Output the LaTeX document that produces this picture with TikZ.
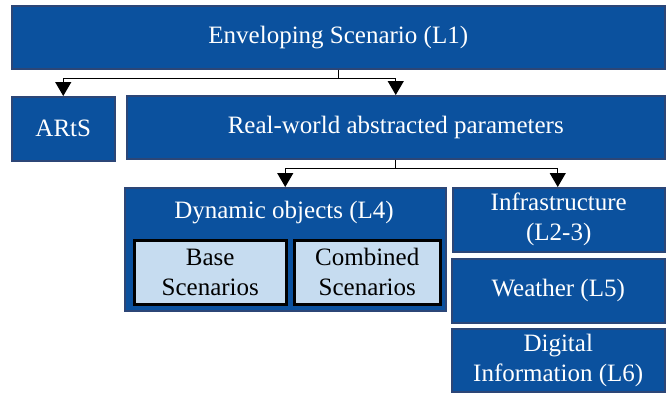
\documentclass[tikz,border=0pt]{standalone}
\usepackage{fontspec}
\setmainfont{Liberation Serif}
\usetikzlibrary{positioning}
\usetikzlibrary{arrows.meta}
\definecolor{boxblue}{HTML}{0B519E}
\definecolor{boxedge}{HTML}{2C4677}
\definecolor{boxlight}{HTML}{C6DCF0}
\tikzset{
    mybox/.style = {rectangle, draw=boxedge, line width=1.5pt, fill=boxblue, text=white, align=center, anchor=north west, inner sep=0pt, font=\fontsize{25}{30}\selectfont},
    myboxl/.style = {rectangle, draw=black, line width=2.5pt, fill=boxlight, text=black, align=center, anchor=north west, inner sep=0pt, font=\fontsize{25}{30}\selectfont},
    edgen/.style = {-{Triangle[width=16pt,length=14pt]}, line width=1.2pt, black},
    edgel/.style = {-, line width=1.2pt, black}
}
\begin{document}
\begin{tikzpicture}[x=1pt, y=-1pt]
  \useasboundingbox (0,0) rectangle (669,397);
  % level 1
  \node[mybox, minimum width=653pt, minimum height=63pt] (env) at (11,5) {Enveloping Scenario (L1)};
  \node[mybox, minimum width=103pt, minimum height=64pt] (arts) at (11,96) {ARtS};
  \node[mybox, minimum width=538pt, minimum height=63pt] (real) at (126,95) {Real-world abstracted parameters};
  % dynamic objects
  \node[mybox, minimum width=321pt, minimum height=123pt] (dyn) at (124,187) {};
  \node[anchor=center, text=white, font=\fontsize{25}{30}\selectfont] (dyntxt) at (284,213) {Dynamic objects (L4)};
  \node[myboxl, minimum width=152pt, minimum height=64pt] (base) at (133,239) {Base\\Scenarios};
  \node[myboxl, minimum width=146pt, minimum height=64pt] (comb) at (293,239) {Combined\\Scenarios};
  % right column
  \node[mybox, minimum width=212pt, minimum height=64pt] (infra) at (452,187) {Infrastructure\\(L2-3)};
  \node[mybox, minimum width=213pt, minimum height=64pt] (weather) at (451,258) {Weather (L5)};
  \node[mybox, minimum width=213pt, minimum height=63pt] (digital) at (451,328) {Digital\\Information (L6)};
  % connectors
  \coordinate (j1) at ([yshift=-9pt]env.south);
  \draw[edgel] (env.south) -- (j1);
  \draw[edgen] (j1) -| (arts.north);
  \draw[edgen] (j1) -| (real.north);
  \coordinate (j2) at ([yshift=-9pt]real.south);
  \draw[edgel] (real.south) -- (j2);
  \draw[edgen] (j2) -| (dyn.north);
  \draw[edgen] (j2) -| ([xshift=-1pt]infra.north);
\end{tikzpicture}
\end{document}
